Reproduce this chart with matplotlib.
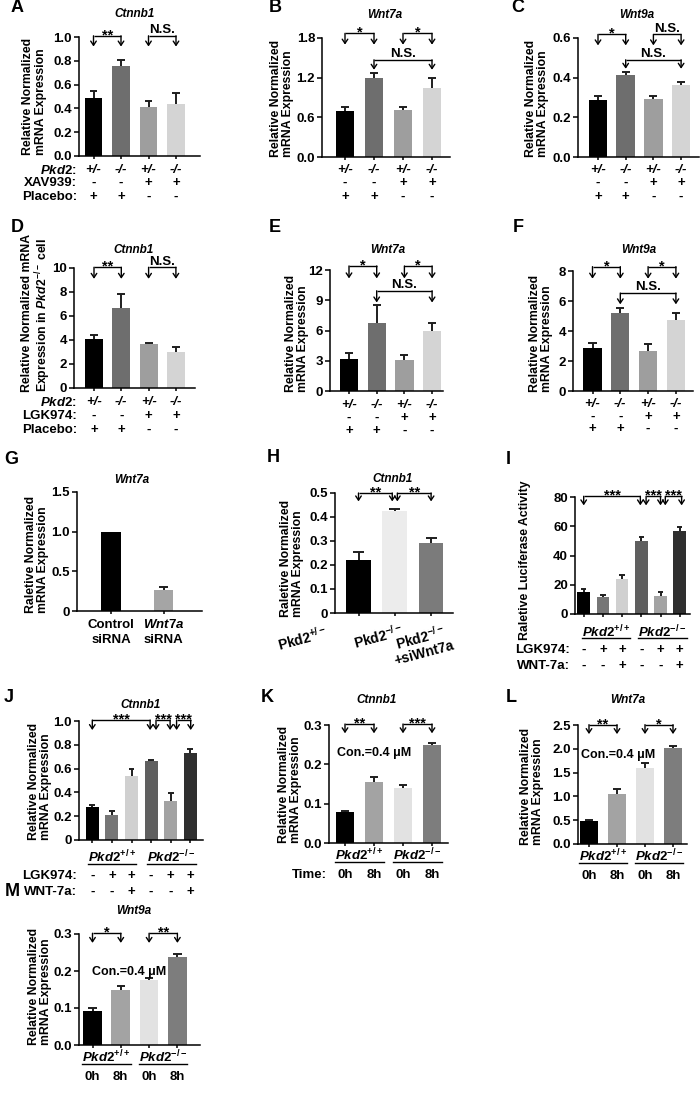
import numpy as np
import matplotlib
matplotlib.use("Agg")
import matplotlib.pyplot as plt
from matplotlib.lines import Line2D
from matplotlib.transforms import blended_transform_factory as btf

plt.rcParams.update({
    "font.family": ["Liberation Sans", "DejaVu Sans"],
    "font.weight": "bold",
    "mathtext.fontset": "custom",
    "mathtext.rm": "Liberation Sans:bold",
    "mathtext.it": "Liberation Sans:italic:bold",
    "mathtext.bf": "Liberation Sans:bold",
    "axes.linewidth": 1.1,
})

# ---------------- data ----------------
A_vals = [0.49, 0.76, 0.41, 0.44]
A_errs = [0.06, 0.05, 0.05, 0.09]
B_vals = [0.70, 1.20, 0.71, 1.05]
B_errs = [0.06, 0.07, 0.04, 0.15]
C_vals = [0.287, 0.415, 0.290, 0.365]
C_errs = [0.022, 0.012, 0.019, 0.014]
D_vals = [4.10, 6.70, 3.67, 2.97]
D_errs = [0.28, 1.15, 0.08, 0.42]
E_vals = [3.20, 6.70, 3.10, 5.95]
E_errs = [0.55, 1.80, 0.50, 0.80]
F_vals = [2.90, 5.22, 2.67, 4.76]
F_errs = [0.27, 0.30, 0.44, 0.46]
G_vals = [1.00, 0.265]
G_errs = [0.0, 0.04]
H_vals = [0.219, 0.424, 0.292]
H_errs = [0.035, 0.011, 0.019]
I_vals = [15.2, 11.8, 24.1, 50.0, 12.3, 56.8]
I_errs = [1.6, 1.2, 2.9, 2.7, 2.5, 2.7]
J_vals = [0.280, 0.210, 0.540, 0.664, 0.330, 0.734]
J_errs = [0.014, 0.034, 0.054, 0.008, 0.062, 0.034]
K_vals = [0.0786, 0.156, 0.141, 0.249]
K_errs = [0.0025, 0.013, 0.007, 0.006]
L_vals = [0.483, 1.043, 1.590, 2.010]
L_errs = [0.021, 0.105, 0.105, 0.056]
M_vals = [0.092, 0.150, 0.176, 0.237]
M_errs = [0.007, 0.010, 0.004, 0.008]

# tick labels
A_yticks = [0.0, 0.2, 0.4, 0.6, 0.8, 1.0]
A_ytl = ["0.0", "0.2", "0.4", "0.6", "0.8", "1.0"]
B_yticks = [0.0, 0.6, 1.2, 1.8]
B_ytl = ["0.0", "0.6", "1.2", "1.8"]
C_yticks = [0.0, 0.2, 0.4, 0.6]
C_ytl = ["0.0", "0.2", "0.4", "0.6"]
D_yticks = [0, 2, 4, 6, 8, 10]
D_ytl = ["0", "2", "4", "6", "8", "10"]
E_yticks = [0, 3, 6, 9, 12]
E_ytl = ["0", "3", "6", "9", "12"]
F_yticks = [0, 2, 4, 6, 8]
F_ytl = ["0", "2", "4", "6", "8"]
G_yticks = [0.0, 0.5, 1.0, 1.5]
G_ytl = ["0", "0.5", "1.0", "1.5"]
H_yticks = [0.0, 0.1, 0.2, 0.3, 0.4, 0.5]
H_ytl = ["0", "0.1", "0.2", "0.3", "0.4", "0.5"]
I_yticks = [0, 20, 40, 60, 80]
I_ytl = ["0", "20", "40", "60", "80"]
J_yticks = [0.0, 0.2, 0.4, 0.6, 0.8, 1.0]
J_ytl = ["0", "0.2", "0.4", "0.6", "0.8", "1.0"]
K_yticks = [0.0, 0.1, 0.2, 0.3]
K_ytl = ["0.0", "0.1", "0.2", "0.3"]
L_yticks = [0.0, 0.5, 1.0, 1.5, 2.0, 2.5]
L_ytl = ["0.0", "0.5", "1.0", "1.5", "2.0", "2.5"]
M_yticks = [0.0, 0.1, 0.2, 0.3]
M_ytl = ["0.0", "0.1", "0.2", "0.3"]

# category rows
pkd2_row = ["+/-", "-/-", "+/-", "-/-"]
drug_row = ["-", "-", "+", "+"]
placebo_row = ["+", "+", "-", "-"]
lgk_row6 = ["-", "+", "+", "-", "+", "+"]
wnt_row6 = ["-", "-", "+", "-", "-", "+"]
time_row = ["0h", "8h", "0h", "8h"]
G_cats = [("Control", "siRNA"), ("$\\mathit{Wnt7a}$", "siRNA")]
H_cats = ["Pkd2$^{+/-}$", "Pkd2$^{-/-}$", "Pkd2$^{-/-}$"]
group_wt = "$\\mathit{Pkd2}^{+/+}$"
group_ko = "$\\mathit{Pkd2}^{-/-}$"

# significance labels
A_sig = ["**", "N.S."]
B_sig = ["*", "*", "N.S."]
C_sig = ["*", "N.S.", "N.S."]
D_sig = ["**", "N.S."]
E_sig = ["*", "*", "N.S."]
F_sig = ["*", "*", "N.S."]
H_sig = ["**", "**"]
I_sig = ["***", "***", "***"]
J_sig = ["***", "***", "***"]
K_sig = ["**", "***"]
L_sig = ["**", "*"]
M_sig = ["*", "**"]

# ---------------- styles / layout ----------------
PAL4 = ["#000000", "#6e6e6e", "#9e9e9e", "#d4d4d4"]
PALG = ["#000000", "#a5a5a5"]
PALH = ["#000000", "#ececec", "#7b7b7b"]
PAL6 = ["#000000", "#767676", "#d0d0d0", "#5f5f5f", "#a3a3a3", "#2f2f2f"]
PALK = ["#000000", "#a3a3a3", "#e2e2e2", "#7d7d7d"]
ECOL = "#1e1e1e"

W, H = 700, 1104
fig = plt.figure(figsize=(7, 11.04), dpi=100)


def fy(p):
    return 1 - p / H


LAY = {
    "A": dict(box=(79, 200, 37, 156), c0=93.5, s=27.5, w=0.65,
              br=[(0, 1, 1.01, 0.92), (2, 3, 1.01, 0.92)]),
    "B": dict(box=(322, 450, 38, 157), c0=345, s=29, w=0.65,
              br=[(0, 1, 1.87, 1.70), (2, 3, 1.87, 1.70), (1, 3, 1.47, 1.32)]),
    "C": dict(box=(578, 699, 38, 157), c0=598, s=27.7, w=0.67,
              br=[(0, 1, 0.618, 0.563), (2, 3, 0.618, 0.563), (1, 3, 0.49, 0.445)]),
    "D": dict(box=(74, 195, 268, 388), c0=94, s=27.3, w=0.66,
              br=[(0, 1, 10.06, 9.1), (2, 3, 10.06, 9.1)]),
    "E": dict(box=(330, 443, 270, 391), c0=349, s=27.7, w=0.66,
              br=[(0, 1, 12.4, 11.17), (2, 3, 12.4, 11.17), (1, 3, 9.94, 8.78)]),
    "F": dict(box=(573, 693, 271, 391), c0=592.5, s=27.8, w=0.66,
              br=[(0, 1, 8.29, 7.49), (2, 3, 8.29, 7.49), (1, 3, 6.53, 5.78)]),
    "G": dict(box=(77, 202, 492, 611), c0=111, s=52.5, w=0.38, br=[]),
    "H": dict(box=(335, 453, 493, 613), c0=358.5, s=36.3, w=0.68,
              br=[(0, 0.93, 0.5, 0.465), (1.07, 2, 0.5, 0.465)]),
    "I": dict(box=(575, 690, 497, 614), c0=583.7, s=19.2, w=0.65,
              br=[(0, 2.95, 80.5, 74.3), (3.25, 4.0, 80.5, 74.3), (4.25, 5.1, 80.5, 74.3)]),
    "J": dict(box=(79, 203, 721, 840), c0=92.3, s=19.6, w=0.66,
              br=[(0, 2.95, 1.008, 0.924), (3.25, 3.97, 1.008, 0.924), (4.3, 5.02, 1.008, 0.924)]),
    "K": dict(box=(329, 448, 725, 843), c0=345, s=29, w=0.63,
              br=[(0, 1, 0.3025, 0.279), (2, 3, 0.3025, 0.279)]),
    "L": dict(box=(578, 687, 725, 844), c0=589, s=28, w=0.65,
              br=[(0, 1, 2.507, 2.31), (2, 3, 2.507, 2.31)]),
    "M": dict(box=(79, 200, 934, 1045), c0=92.5, s=28.3, w=0.66,
              br=[(0, 1, 0.302, 0.276), (2, 3, 0.302, 0.276)]),
}

TITLES = {"A": ("Ctnnb1", 135, 14), "B": ("Wnt7a", 385, 15), "C": ("Wnt9a", 637, 15),
          "D": ("Ctnnb1", 134, 250), "E": ("Wnt7a", 388, 250), "F": ("Wnt9a", 639, 250),
          "G": ("Wnt7a", 132, 480), "H": ("Ctnnb1", 393, 479),
          "J": ("Ctnnb1", 141, 705), "K": ("Ctnnb1", 377, 700), "L": ("Wnt7a", 628, 700),
          "M": ("Wnt9a", 134, 911)}
LETTERS = {"A": (17, 8), "B": (275, 8), "C": (518, 8), "D": (17, 227), "E": (275, 227),
           "F": (518, 227), "G": (11, 459), "H": (273, 458), "I": (508, 459),
           "J": (9, 697), "K": (267, 697), "L": (511, 697), "M": (12, 891)}
YL_STD = "Relative Normalized\nmRNA Expression"
YL_RAL = "Raletive Normalized\nmRNA Expression"
YLABELS = {"A": (34.5, 155, YL_STD), "B": (282, 157, YL_STD), "C": (537, 157, YL_STD),
           "D": (37, 392, "Relative Normalized mRNA\nExpression in $\\mathit{Pkd2}^{-/-}$ cell"),
           "E": (297, 392, YL_STD), "F": (541, 392, YL_STD),
           "G": (37, 613, YL_RAL), "H": (292, 617, YL_RAL),
           "I": (525, 640, "Raletive Luciferase Activity"),
           "J": (40, 840, YL_STD), "K": (290, 843, YL_STD), "L": (532, 845, YL_STD),
           "M": (40, 1045, YL_STD)}

FS_TICK = 9.5
FS_ROW = 9.5
axes = {}


def make_panel(key, vals, errs, colors, yticks, ytl, sig):
    L = LAY[key]
    x0, x1, yt, yb = L["box"]
    ax = fig.add_axes([x0 / W, fy(yb), (x1 - x0) / W, (yb - yt) / H])
    xs = np.arange(len(vals))
    v = np.asarray(vals, float)
    e = np.asarray(errs, float)
    ax.bar(xs, v, width=L["w"], color=colors, edgecolor="none", zorder=2)
    m = e > 0
    cw = L["w"] * 0.22
    ax.vlines(xs[m], v[m], (v + e)[m], colors=ECOL, linewidth=1.4, zorder=3)
    ax.hlines((v + e)[m], xs[m] - cw, xs[m] + cw, colors=ECOL, linewidth=1.4, zorder=3)
    ax.set_xlim(-(L["c0"] - x0) / L["s"], (x1 - L["c0"]) / L["s"])
    ax.set_ylim(yticks[0], yticks[-1])
    ax.set_yticks(yticks)
    ax.set_yticklabels(ytl)
    ax.set_xticks(xs)
    ax.set_xticklabels([])
    for sp in ("top", "right"):
        ax.spines[sp].set_visible(False)
    ax.tick_params(axis="y", length=3.5, width=1.1, labelsize=FS_TICK, pad=1.5)
    ax.tick_params(axis="x", length=2.5, width=1.1)
    for (a, b, yl, ytip), lab in zip(L["br"], sig):
        ax.plot([a, b], [yl, yl], color="k", lw=1.0, clip_on=False, solid_capstyle="butt")
        for xx in (a, b):
            ax.annotate("", xy=(xx, ytip), xytext=(xx, yl),
                        arrowprops=dict(arrowstyle="->,head_length=0.3,head_width=0.2",
                                        lw=1.0, color="k", shrinkA=0, shrinkB=0),
                        annotation_clip=False)
        if lab.startswith("*"):
            ax.annotate(lab, xy=((a + b) / 2, yl), xytext=(0, -2.5), textcoords="offset points",
                        ha="center", va="baseline", fontsize=10.5, annotation_clip=False)
        else:
            ax.annotate(lab, xy=((a + b) / 2, yl), xytext=(0, 2), textcoords="offset points",
                        ha="center", va="baseline", fontsize=9.5, annotation_clip=False)
    if key in TITLES:
        t, tx, ty = TITLES[key]
        fig.text(tx / W, fy(ty), t, ha="center", va="center", fontsize=8.5, style="italic")
    lx, ly = LETTERS[key]
    fig.text(lx / W, fy(ly), key, ha="center", va="center", fontsize=13, weight="heavy")
    yx, yby, ytxt = YLABELS[key]
    fig.text(yx / W, fy(yby), ytxt, rotation=90, ha="center", va="bottom",
             multialignment="left", fontsize=8.8, linespacing=1.1)
    axes[key] = ax
    return ax


def row_text(ax, y_px, items, **kw):
    tr = btf(ax.transData, fig.transFigure)
    for i, t in enumerate(items):
        ax.text(i, fy(y_px), t, transform=tr, ha="center", va="center",
                fontsize=FS_ROW, clip_on=False, **kw)


def row_label(x_px, y_px, txt):
    fig.text(x_px / W, fy(y_px), txt, ha="right", va="center", fontsize=FS_ROW)


underlines = []


def group_label(ax, xc, y_px, txt, uy_px):
    tr = btf(ax.transData, fig.transFigure)
    t = ax.text(xc, fy(y_px), txt, transform=tr, ha="center", va="center",
                fontsize=FS_ROW, clip_on=False)
    underlines.append((t, uy_px))


# ---- row 1 ----
axA = make_panel("A", A_vals, A_errs, PAL4, A_yticks, A_ytl, A_sig)
axB = make_panel("B", B_vals, B_errs, PAL4, B_yticks, B_ytl, B_sig)
axC = make_panel("C", C_vals, C_errs, PAL4, C_yticks, C_ytl, C_sig)
for ax, ys in ((axA, (170, 183, 197)), (axB, (170, 183, 197)), (axC, (170, 183, 197))):
    row_text(ax, ys[0], pkd2_row, style="italic")
    row_text(ax, ys[1], drug_row)
    row_text(ax, ys[2], placebo_row)
row_label(77, 170, "$\\mathit{Pkd2}$:")
row_label(77, 183, "XAV939:")
row_label(77, 197, "Placebo:")

# ---- row 2 ----
axD = make_panel("D", D_vals, D_errs, PAL4, D_yticks, D_ytl, D_sig)
axE = make_panel("E", E_vals, E_errs, PAL4, E_yticks, E_ytl, E_sig)
axF = make_panel("F", F_vals, F_errs, PAL4, F_yticks, F_ytl, F_sig)
for ax, ys in ((axD, (402, 416, 430)), (axE, (405, 418, 431)), (axF, (404, 417, 429))):
    row_text(ax, ys[0], pkd2_row, style="italic")
    row_text(ax, ys[1], drug_row)
    row_text(ax, ys[2], placebo_row)
row_label(77, 402, "$\\mathit{Pkd2}$:")
row_label(77, 416, "LGK974:")
row_label(77, 430, "Placebo:")

# ---- row 3 ----
axG = make_panel("G", G_vals, G_errs, PALG, G_yticks, G_ytl, [])
trG = btf(axG.transData, fig.transFigure)
for i, (l1, l2) in enumerate(G_cats):
    axG.text(i, fy(625), l1, transform=trG, ha="center", va="center", fontsize=FS_ROW, clip_on=False)
    axG.text(i, fy(640), l2, transform=trG, ha="center", va="center", fontsize=FS_ROW, clip_on=False)

axH = make_panel("H", H_vals, H_errs, PALH, H_yticks, H_ytl, H_sig)
for (cx, cy), lab in zip([(302, 638), (378, 636), (420, 637)], H_cats):
    fig.text(cx / W, fy(cy), lab, rotation=15, ha="center", va="center", fontsize=10)
fig.text(424 / W, fy(653), "+siWnt7a", rotation=15, ha="center", va="center", fontsize=10)

axI = make_panel("I", I_vals, I_errs, PAL6, I_yticks, I_ytl, I_sig)
group_label(axI, 1.15, 632, group_wt, 638)
group_label(axI, 4.1, 632, group_ko, 638)
row_text(axI, 650, lgk_row6)
row_text(axI, 666, wnt_row6)
row_label(570, 650, "LGK974:")
row_label(570, 666, "WNT-7a:")

# ---- row 4 ----
axJ = make_panel("J", J_vals, J_errs, PAL6, J_yticks, J_ytl, J_sig)
group_label(axJ, 1.0, 857, group_wt, 864)
group_label(axJ, 4.05, 857, group_ko, 864)
row_text(axJ, 876, lgk_row6)
row_text(axJ, 892, wnt_row6)
row_label(77, 876, "LGK974:")
row_label(77, 892, "WNT-7a:")

for key, vals, errs, yt, ytl, sig, con_xy in (
        ("K", K_vals, K_errs, K_yticks, K_ytl, K_sig, (1.0, 0.228)),
        ("L", L_vals, L_errs, L_yticks, L_ytl, L_sig, (1.04, 1.88)),
        ("M", M_vals, M_errs, M_yticks, M_ytl, M_sig, (1.3, 0.197))):
    ax = make_panel(key, vals, errs, PALK, yt, ytl, sig)
    bot = LAY[key]["box"][3]
    ax.text(con_xy[0], con_xy[1], "Con.=0.4 \u03bcM", ha="center", va="center", fontsize=9)
    group_label(ax, 0.5, bot + 12, group_wt, bot + 19)
    group_label(ax, 2.5, bot + 12, group_ko, bot + 19)
    row_text(ax, bot + 32, time_row)
row_label(327, 875, "Time:")

fig.canvas.draw()
rend = fig.canvas.get_renderer()
for t, uy in underlines:
    bb = t.get_window_extent(rend)
    fig.add_artist(Line2D([bb.x0 / W, bb.x1 / W], [fy(uy), fy(uy)],
                          transform=fig.transFigure, color="k", lw=1.0))

fig.savefig("out.png", dpi=100)
